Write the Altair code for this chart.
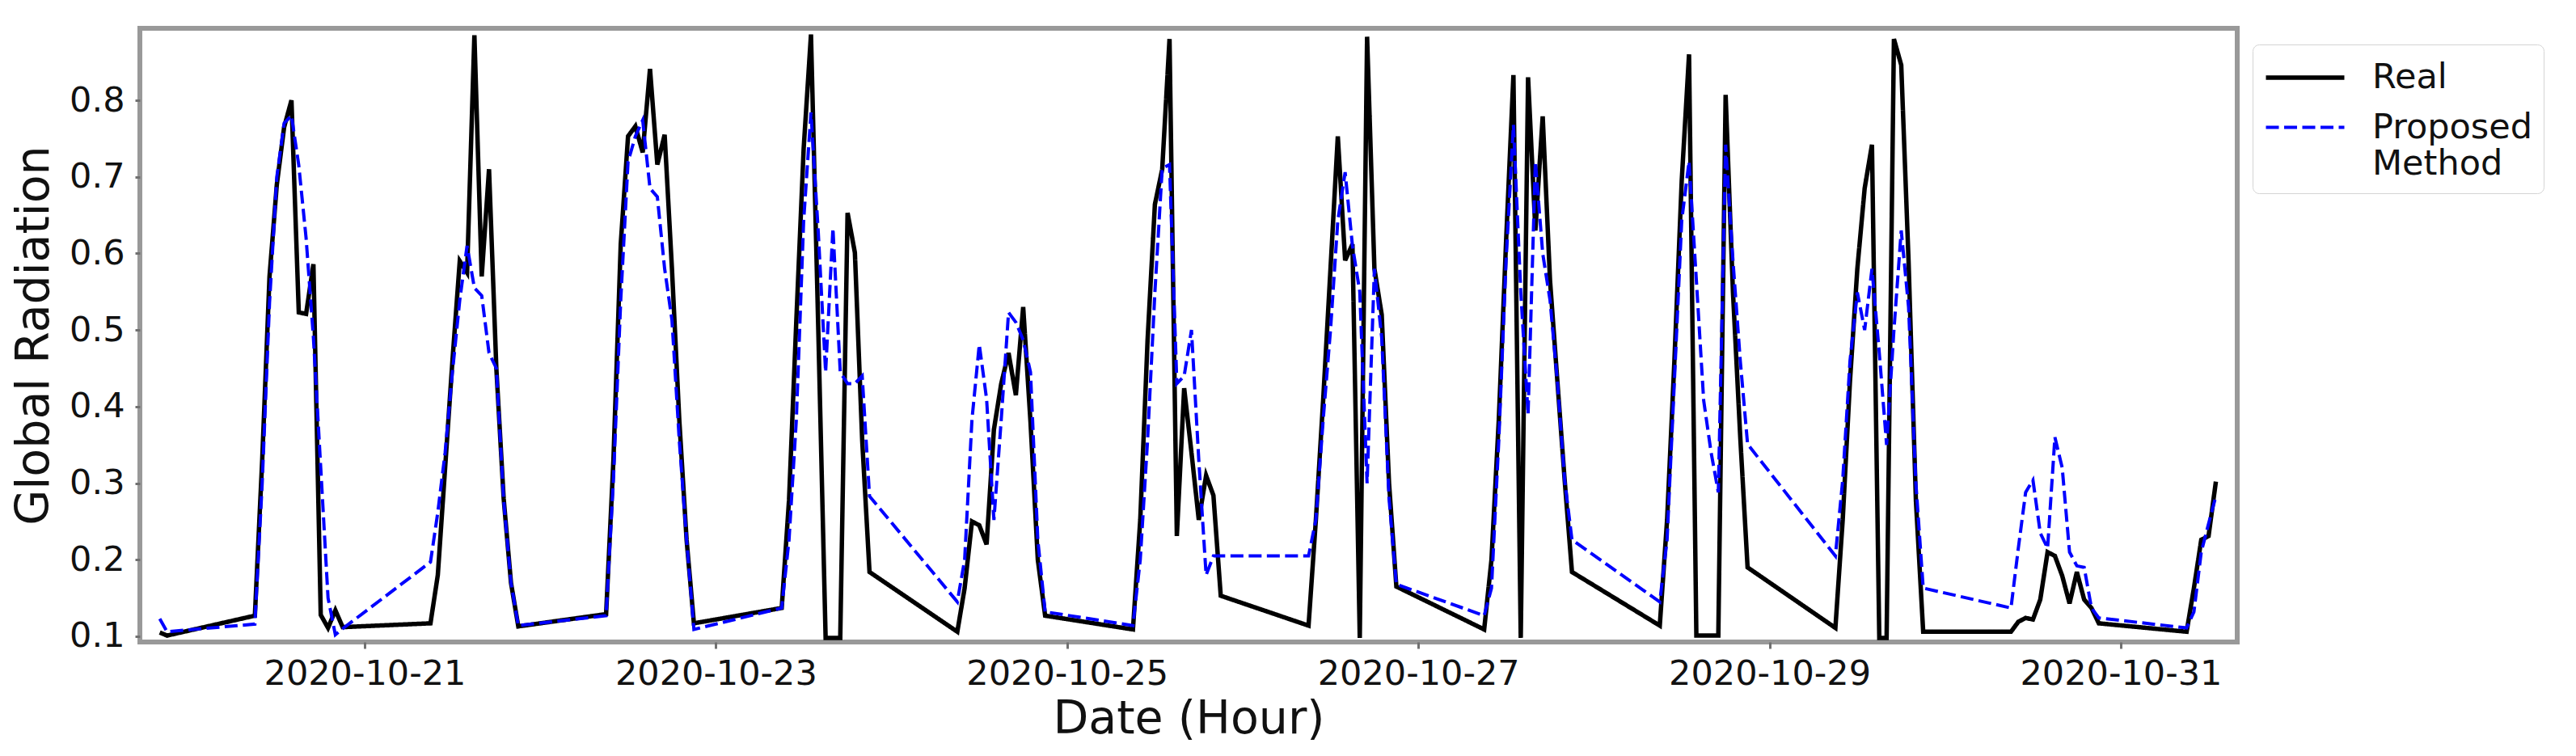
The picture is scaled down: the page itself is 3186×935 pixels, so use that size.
import altair as alt
import pandas as pd

# ---- data (hourly, night hours missing) ----
days = ["2020-10-19", "2020-10-20", "2020-10-21", "2020-10-22", "2020-10-23",
        "2020-10-24", "2020-10-25", "2020-10-26", "2020-10-27", "2020-10-28",
        "2020-10-29", "2020-10-30", "2020-10-31"]

first_hours = [20, 21]
full_hours = [9, 10, 11, 12, 13, 14, 15, 16, 17, 18, 19, 20, 21]
last_hours = [9, 10, 11, 12, 13]
day_hours = [first_hours] + [full_hours] * 11 + [last_hours]

real = [
    [0.105, 0.101],
    [0.127, 0.33, 0.57, 0.69, 0.765, 0.80, 0.523, 0.521, 0.586, 0.128, 0.111, 0.134, 0.112],
    [0.117, 0.18, 0.32, 0.46, 0.59, 0.575, 0.885, 0.57, 0.71, 0.45, 0.28, 0.17, 0.113],
    [0.129, 0.33, 0.612, 0.753, 0.766, 0.732, 0.841, 0.716, 0.755, 0.58, 0.383, 0.226, 0.117],
    [0.137, 0.278, 0.513, 0.737, 0.886, 0.50, 0.098, 0.098, 0.098, 0.653, 0.601, 0.356, 0.184],
    [0.106, 0.163, 0.25, 0.245, 0.22, 0.37, 0.43, 0.47, 0.415, 0.53, 0.38, 0.20, 0.127],
    [0.109, 0.252, 0.487, 0.664, 0.71, 0.88, 0.231, 0.424, 0.34, 0.252, 0.31, 0.284, 0.153],
    [0.114, 0.252, 0.409, 0.58, 0.753, 0.591, 0.612, 0.098, 0.883, 0.58, 0.52, 0.30, 0.165],
    [0.109, 0.20, 0.383, 0.617, 0.833, 0.098, 0.83, 0.63, 0.779, 0.565, 0.434, 0.304, 0.184],
    [0.114, 0.252, 0.46, 0.695, 0.86, 0.101, 0.101, 0.101, 0.101, 0.807, 0.55, 0.36, 0.19],
    [0.111, 0.252, 0.434, 0.58, 0.685, 0.742, 0.098, 0.098, 0.88, 0.846, 0.59, 0.278, 0.106],
    [0.106, 0.119, 0.124, 0.122, 0.148, 0.21, 0.205, 0.179, 0.143, 0.184, 0.148, 0.137, 0.117],
    [0.106, 0.163, 0.226, 0.231, 0.302],
]

proposed = [
    [0.123, 0.106],
    [0.116, 0.30, 0.535, 0.70, 0.77, 0.78, 0.715, 0.62, 0.49, 0.32, 0.15, 0.102, 0.11],
    [0.197, 0.262, 0.34, 0.445, 0.539, 0.61, 0.555, 0.545, 0.47, 0.45, 0.278, 0.17, 0.114],
    [0.127, 0.304, 0.539, 0.72, 0.753, 0.774, 0.685, 0.674, 0.58, 0.513, 0.356, 0.226, 0.109],
    [0.137, 0.226, 0.383, 0.643, 0.784, 0.627, 0.445, 0.633, 0.445, 0.43, 0.43, 0.44, 0.283],
    [0.145, 0.20, 0.383, 0.481, 0.41, 0.252, 0.383, 0.523, 0.51, 0.487, 0.445, 0.226, 0.132],
    [0.114, 0.20, 0.356, 0.549, 0.711, 0.716, 0.43, 0.44, 0.50, 0.33, 0.18, 0.205, 0.205],
    [0.205, 0.252, 0.383, 0.50, 0.643, 0.706, 0.61, 0.55, 0.30, 0.58, 0.49, 0.28, 0.168],
    [0.127, 0.163, 0.356, 0.591, 0.768, 0.55, 0.39, 0.72, 0.60, 0.539, 0.434, 0.304, 0.226],
    [0.145, 0.226, 0.434, 0.643, 0.72, 0.565, 0.408, 0.341, 0.288, 0.742, 0.591, 0.46, 0.351],
    [0.205, 0.304, 0.46, 0.549, 0.50, 0.58, 0.47, 0.35, 0.50, 0.63, 0.53, 0.30, 0.163],
    [0.137, 0.215, 0.288, 0.304, 0.235, 0.215, 0.36, 0.32, 0.21, 0.192, 0.19, 0.137, 0.124],
    [0.111, 0.132, 0.21, 0.247, 0.283],
]

series_names = ["Real", "Proposed Method"]
y_ticks = [0.1, 0.2, 0.3, 0.4, 0.5, 0.6, 0.7, 0.8]
x_tick_days = [21, 23, 25, 27, 29, 31]

rows = []
for d, hs, rv, pv in zip(days, day_hours, real, proposed):
    for h, r, p in zip(hs, rv, pv):
        t = f"{d}T{h:02d}:00:00"
        rows.append({"time": t, "value": r, "series": series_names[0]})
        rows.append({"time": t, "value": p, "series": series_names[1]})
df = pd.DataFrame(rows)

FONT = "DejaVu Sans"

x_enc = alt.X(
    "time:T",
    title="Date (Hour)",
    scale=alt.Scale(
        domain=[alt.DateTime(year=2020, month=10, date=19, hours=17, minutes=17),
                alt.DateTime(year=2020, month=10, date=31, hours=15, minutes=55)],
        nice=False,
    ),
    axis=alt.Axis(
        values=[alt.DateTime(year=2020, month=10, date=d) for d in x_tick_days],
        format="%Y-%m-%d",
        labelFontSize=43, labelFont=FONT, labelColor="#111111", labelLimit=0,
        labelFlush=False, labelOverlap=False,
        tickSize=8, tickWidth=3, tickColor="#707070",
        labelPadding=10, domain=False, grid=False,
        titleFont=FONT, titleFontSize=57, titleFontWeight="normal",
        titleColor="#111111", titlePadding=6,
    ),
)
y_enc = alt.Y(
    "value:Q",
    title="Global Radiation",
    scale=alt.Scale(domain=[0.0926, 0.894], nice=False, zero=False),
    axis=alt.Axis(
        values=y_ticks, format=".1f",
        labelFontSize=43, labelFont=FONT, labelColor="#111111",
        labelFlush=False, labelOverlap=False,
        tickSize=6, tickWidth=3, tickColor="#707070",
        labelPadding=13, domain=False, grid=False,
        titleFont=FONT, titleFontSize=57, titleFontWeight="normal",
        titleColor="#111111", titlePadding=14,
    ),
)

color_scale = alt.Scale(domain=series_names, range=["#000000", "#0000ff"])
dash_scale = alt.Scale(domain=series_names, range=[[1, 0], [16, 6.5]])
width_scale = alt.Scale(domain=series_names, range=[5.5, 4])

legend = alt.Legend(
    title=None, orient="none", legendX=2613, legendY=20,
    symbolType="M-2,0H2", symbolSize=2352, symbolStrokeWidth=5,
    symbolOffset=24,
    labelFont=FONT, labelFontSize=43, labelColor="#111111", labelLimit=0,
    labelExpr="datum.value == 'Proposed Method' ? ['Proposed', '\u2004Method'] : datum.label",
    labelOffset=56, padding=14, rowPadding=13,
    strokeColor="#d4d4d4", fillColor="white", cornerRadius=8,
)

def layer_for(name):
    return alt.Chart(df).transform_filter(
        alt.datum.series == name
    ).mark_line().encode(
        x=x_enc,
        y=y_enc,
        color=alt.Color("series:N", scale=color_scale, legend=legend),
        strokeDash=alt.StrokeDash("series:N", scale=dash_scale, legend=legend),
        strokeWidth=alt.StrokeWidth("series:N", scale=width_scale, legend=None),
    )

chart = alt.layer(layer_for("Real"), layer_for("Proposed Method")).properties(
    width=2594, height=759,
    autosize=alt.AutoSizeParams(type="none"),
    padding={"left": 165, "top": 27, "right": 400, "bottom": 130},
).configure(
    font=FONT
).configure_view(
    stroke="#999999", strokeWidth=6
)

chart.save("out.html", embed_options={"renderer": "svg", "actions": False})
